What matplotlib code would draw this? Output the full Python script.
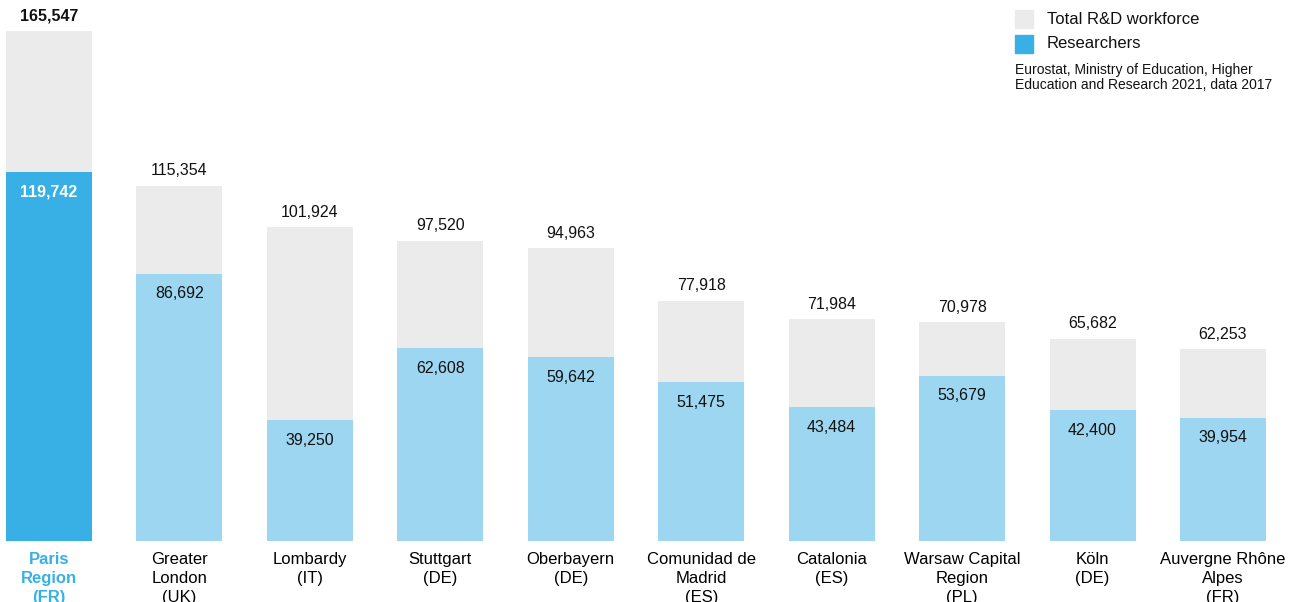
import matplotlib.pyplot as plt
from matplotlib.patches import Rectangle

# data
regions = ["Paris\nRegion\n(FR)", "Greater\nLondon\n(UK)", "Lombardy\n(IT)", "Stuttgart\n(DE)",
           "Oberbayern\n(DE)", "Comunidad de\nMadrid\n(ES)", "Catalonia\n(ES)",
           "Warsaw Capital\nRegion\n(PL)", "Köln\n(DE)", "Auvergne Rhône\nAlpes\n(FR)"]
total_rd = [165547, 115354, 101924, 97520, 94963, 77918, 71984, 70978, 65682, 62253]
researchers = [119742, 86692, 39250, 62608, 59642, 51475, 43484, 53679, 42400, 39954]

GREY = "#ebebeb"
BLUE = "#39b0e5"
LIGHT = "#9dd6f0"

plt.rcParams["font.family"] = ["Liberation Sans", "DejaVu Sans"]

fig = plt.figure(figsize=(12.94, 6.02), dpi=100)
ax = fig.add_axes([0, 61 / 602, 1, 541 / 602])

x = list(range(len(regions)))
w = 86 / 130.44
ax.bar(x, total_rd, width=w, color=GREY, zorder=1)
ax.bar(x, researchers, width=w, color=[BLUE] + [LIGHT] * (len(x) - 1), zorder=2)

ax.set_xlim(-49 / 130.44, (1294 - 49) / 130.44)
ax.set_ylim(0, 165547 * 541 / 510)

px = 165547 / 510  # data units per pixel
for i in x:
    bold = i == 0
    ax.text(i, total_rd[i] + 15 * px, f"{total_rd[i]:,}", ha="center", va="center",
            fontsize=11.5, color="#111111", fontweight="bold" if bold else "normal")
    ax.text(i, researchers[i] - 20 * px, f"{researchers[i]:,}", ha="center", va="center",
            fontsize=11.5, color="white" if bold else "#111111",
            fontweight="bold" if bold else "normal")

ax.set_xticks(x)
ax.set_xticklabels(regions, fontsize=12, linespacing=1.32)
ax.tick_params(axis="x", length=0, pad=8)
ax.tick_params(axis="y", left=False, labelleft=False)
first = ax.get_xticklabels()[0]
first.set_color(BLUE)
first.set_fontweight("bold")
for s in ax.spines.values():
    s.set_visible(False)

# legend
fig.patches.append(Rectangle((1015 / 1294, 1 - 28 / 602), 18 / 1294, 18 / 602,
                             transform=fig.transFigure, color=GREY))
fig.patches.append(Rectangle((1015 / 1294, 1 - 53 / 602), 18 / 1294, 18 / 602,
                             transform=fig.transFigure, color=BLUE))
fig.text(1047 / 1294, 1 - 20 / 602, "Total R&D workforce", fontsize=12, va="center", color="#111111")
fig.text(1047 / 1294, 1 - 44 / 602, "Researchers", fontsize=12, va="center", color="#111111")
fig.text(1015 / 1294, 1 - 63 / 602,
         "Eurostat, Ministry of Education, Higher\nEducation and Research 2021, data 2017",
         fontsize=10, va="top", color="#111111", linespacing=1.1)

fig.savefig("out.png", dpi=100)
